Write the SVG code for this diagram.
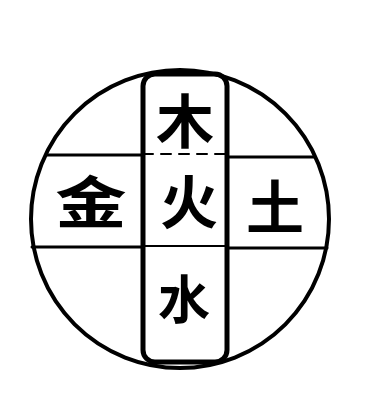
<svg xmlns="http://www.w3.org/2000/svg" width="369" height="394" viewBox="0 0 369 394">
<style>
.ln{fill:none;stroke:#000;stroke-linecap:round}
.ch{font-family:"Noto Sans CJK SC","Noto Sans CJK JP",sans-serif;font-weight:700;text-anchor:middle;dominant-baseline:central;fill:#000}
</style>
<rect width="369" height="394" fill="#fff"/>
<g id="frame">
<circle class="ln" cx="180" cy="219" r="149" stroke-width="4"/>
</g>
<g id="connectors">
<line class="ln" x1="46" y1="155" x2="143" y2="155" stroke-width="3"/>
<line class="ln" x1="143" y1="154" x2="227" y2="154" stroke-width="2" stroke-dasharray="10 8"/>
<line class="ln" x1="227" y1="157" x2="314" y2="157" stroke-width="3"/>
<line class="ln" x1="32" y1="247" x2="143" y2="247" stroke-width="3"/>
<line class="ln" x1="143" y1="246" x2="227" y2="246" stroke-width="2"/>
<line class="ln" x1="227" y1="248" x2="327" y2="248" stroke-width="3"/>
</g>
<g id="strip">
<rect class="ln" x="143" y="74" width="84" height="288" rx="12" stroke-width="5"/>
</g>
<g id="wood"><text class="ch" x="185" y="118" font-size="58">木</text></g>
<g id="fire"><text class="ch" x="189" y="199" font-size="58">火</text></g>
<g id="water"><text class="ch" x="184" y="296" font-size="52">水</text></g>
<g id="metal"><text class="ch" x="0" y="0" font-size="62" transform="translate(91,199) scale(1.15,0.9)">金</text></g>
<g id="earth"><text class="ch" x="275" y="204" font-size="58">土</text></g>
</svg>
